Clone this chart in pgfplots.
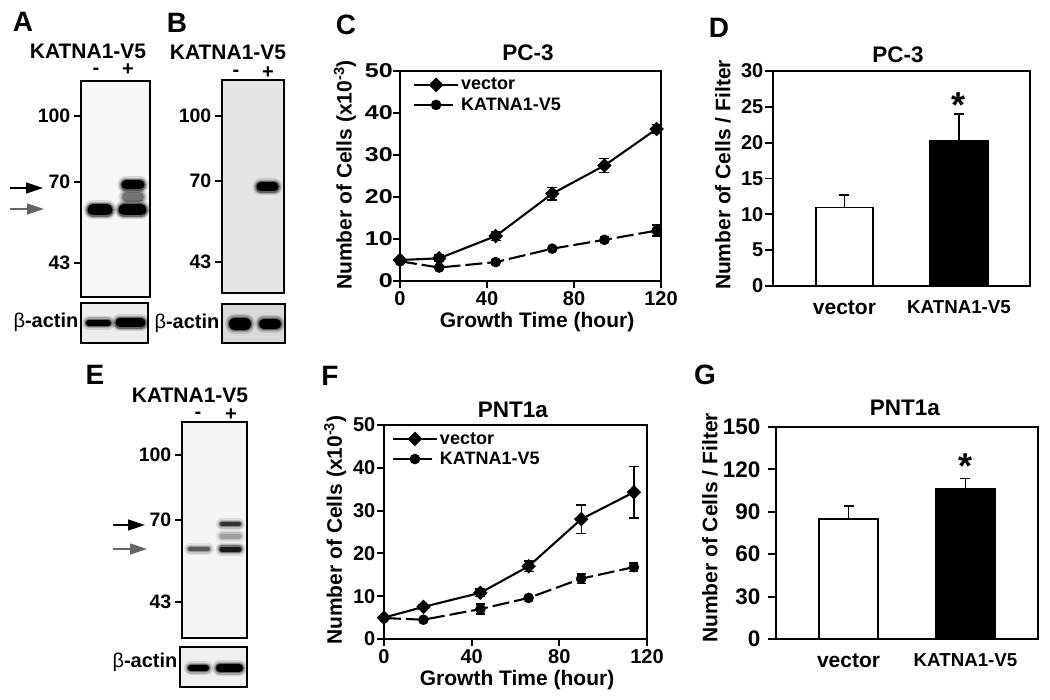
\documentclass[border=0pt]{standalone}
\usepackage{fontspec}
\setmainfont{Liberation Sans}
\usepackage{pgfplots}
\pgfplotsset{compat=1.18}
\usetikzlibrary{arrows.meta}
\newcommand{\fs}[1]{\fontsize{#1}{#1}\selectfont}
\newcommand{\T}[4][19]{\node[font=\bfseries\fs{#1},inner sep=0pt,anchor=center] at (#2pt,-#3pt) {#4};}
\newcommand{\band}[5]{%
 \addplot[#5,line cap=round,opacity=0.12,line width=#4pt+8pt] coordinates {(#1,#3)(#2,#3)};
 \addplot[#5,line cap=round,opacity=0.2,line width=#4pt+5pt] coordinates {(#1,#3)(#2,#3)};
 \addplot[#5,line cap=round,opacity=0.4,line width=#4pt+2.5pt] coordinates {(#1,#3)(#2,#3)};
 \addplot[#5,line cap=round,line width=#4pt] coordinates {(#1,#3)(#2,#3)};
}
\newcommand{\arrowk}[4]{\draw[draw=#4,fill=#4,line width=1.4pt,-{Triangle[length=17pt,width=11pt,fill=#4]}] (#1pt,-#3pt) -- (#2pt,-#3pt);}
\pgfplotsset{
 ax/.style={scale only axis,axis line style={line width=1.9pt,black},
  tick style={line width=1.9pt,black},tick align=outside,major tick length=7pt,
  xtick pos=bottom,ytick pos=left,every axis title shift=0pt,
  tick label style={font=\bfseries\fs{20},/pgf/number format/assume math mode=true},
  label style={font=\bfseries\fs{21},anchor=center,inner sep=0pt},
  title style={font=\bfseries\fs{22.5},anchor=center,inner sep=0pt},
  yticklabel style={inner sep=1.5pt},
  xticklabel style={inner sep=1.5pt,yshift=-2pt}},
 ln/.style={ax,xmin=0,xmax=120,xtick={0,40,80,120},ymin=0,ymax=50,ytick={0,10,...,50},
  legend cell align=left,
  legend image code/.code={\draw[mark repeat=2,mark phase=2,##1] plot coordinates {(0pt,0pt)(22pt,0pt)(44pt,0pt)};},
  legend style={draw=none,fill=none,font=\bfseries\fs{18},inner sep=0pt,outer sep=0pt,row sep=2.5pt,
   /tikz/every even column/.append style={column sep=5pt}}},
 sV/.style={black,line width=2.1pt,mark=square*,mark size=4.1pt,mark options={rotate=45,solid},
  error bars/.cd,y dir=both,y explicit,error bar style={line width=1.4pt,solid},
  error mark options={rotate=90,mark size=5pt,line width=1.4pt,solid}},
 sK/.style={black,line width=2.1pt,dash pattern=on 17pt off 5pt,mark=*,mark size=4.2pt,mark options={solid},
  error bars/.cd,y dir=both,y explicit,error bar style={line width=1.4pt,solid},
  error mark options={rotate=90,mark size=4.5pt,line width=1.4pt,solid}},
 br/.style={ax,ybar,bar shift=0pt,xtick={0,1},xticklabels={{\fs{21}vector},KATNA1-V5},
  major x tick style={draw=none},major tick length=8pt,
  xticklabel style={font=\bfseries\fs{18.7},yshift=-3pt},
  xmin=-0.624,xmax=1.62},
 sB/.style={draw=black,line width=1.9pt,
  error bars/.cd,y dir=plus,y explicit,error bar style={line width=1.5pt,black},
  error mark options={rotate=90,mark size=5pt,line width=1.5pt,black}},
 bl/.style={scale only axis,y dir=reverse,clip=true,axis line style={line width=1.5pt,black},
  xtick=\empty,ytick pos=left,tick align=outside,major tick length=7pt,
  tick style={line width=1.3pt,black},
  tick label style={font=\bfseries\fs{19.5},inner sep=3.5pt}},
 ac/.style={scale only axis,y dir=reverse,clip=true,axis line style={line width=1.5pt,black},
  xtick=\empty,ytick=\empty},
}
\begin{document}
\begin{tikzpicture}
\path (0,0) rectangle (1050pt,-700pt);

%%% Panel A blot
\begin{axis}[bl,at={(81pt,-297pt)},anchor=south west,width=69pt,height=216pt,
 xmin=81,xmax=150,ymin=81,ymax=297,ytick={116,182,263},yticklabels={100,70,43},
 axis background/.style={fill=black!3}]
\band{127}{139}{197}{10}{black!55}
\band{93}{107}{210}{11}{black}
\band{124}{141}{210}{11}{black}
\band{126}{140}{185}{9}{black}
\end{axis}
\begin{axis}[ac,at={(81pt,-343pt)},anchor=south west,width=67pt,height=40pt,
 xmin=81,xmax=148,ymin=303,ymax=343,axis background/.style={fill=black!7}]
\band{89}{108}{323}{6}{black}
\band{120}{141}{323}{9}{black}
\end{axis}

%%% Panel B blot
\begin{axis}[bl,at={(222pt,-293pt)},anchor=south west,width=62pt,height=213pt,
 xmin=222,xmax=284,ymin=80,ymax=293,ytick={116,181,262},yticklabels={100,70,43},
 axis background/.style={fill=black!10}]
\band{261}{274}{187}{9}{black}
\end{axis}
\begin{axis}[ac,at={(222pt,-343pt)},anchor=south west,width=63pt,height=39pt,
 xmin=222,xmax=285,ymin=304,ymax=343,axis background/.style={fill=black!15}]
\band{235}{245}{324}{12}{black}
\band{264}{276}{324}{10}{black}
\end{axis}

%%% Panel E blot
\begin{axis}[bl,at={(182pt,-638pt)},anchor=south west,width=65pt,height=216pt,
 xmin=182,xmax=247,ymin=422,ymax=638,ytick={455,520,602},yticklabels={100,70,43},
 axis background/.style={fill=black!4}]
\band{190}{208}{549}{4}{black!65}
\band{222}{239}{524}{4}{black!80}
\band{222}{239}{536}{5}{black!38}
\band{222}{239}{549}{5}{black!90}
\end{axis}
\begin{axis}[ac,at={(180pt,-687pt)},anchor=south west,width=67pt,height=40pt,
 xmin=180,xmax=247,ymin=647,ymax=687,axis background/.style={fill=black!6}]
\band{191}{206}{668}{6}{black}
\band{220}{239}{668}{8}{black}
\end{axis}

%%% Panel C
\begin{axis}[ln,at={(400pt,-281pt)},anchor=south west,width=261pt,height=210pt,
 yticklabel style={xscale=1.25,inner sep=0pt},
 title={PC-3},title style={at={(axis description cs:0.49,1.086)}},
 xlabel={Growth Time (hour)},xlabel style={at={(axis description cs:0.525,-0.195)}},
 ylabel={Number of Cells (x10\textsuperscript{-3})},ylabel style={at={(axis description cs:-0.211,0.505)}},
 legend style={at={(axis description cs:0.05,0.975)},anchor=north west}]
\addplot+[sV] coordinates {(0,5)+-(0,0.3) (18,5.4)+-(0,0.8) (44,10.7)+-(0,1) (70,20.8)+-(0,1.5) (94,27.5)+-(0,1.7) (118,36.2)+-(0,1)};
\addlegendentry{vector}
\addplot+[sK] coordinates {(0,4.7)+-(0,0.5) (18,3.2)+-(0,0.5) (44,4.5)+-(0,0.5) (70,7.7)+-(0,0.5) (94,9.8)+-(0,0.7) (118,12)+-(0,1.3)};
\addlegendentry{KATNA1-V5}
\end{axis}

%%% Panel D
\begin{axis}[br,at={(773pt,-286pt)},anchor=south west,width=257pt,height=215pt,
 bar width=57.5pt,ymin=0,ymax=30,ytick={0,5,...,30},
 title={PC-3},title style={at={(axis description cs:0.486,1.074)}},
 ylabel={Number of Cells / Filter},ylabel style={at={(axis description cs:-0.195,0.516)}}]
\addplot+[fill=white,sB] coordinates {(0,10.95)+-(0,1.75)};
\addplot+[fill=black,sB] coordinates {(1,20.3)+-(0,3.7)};
\node[font=\bfseries\fs{36},inner sep=0pt] at (axis cs:1,25.3) {*};
\end{axis}

%%% Panel F
\begin{axis}[ln,at={(384pt,-639pt)},anchor=south west,width=263pt,height=214pt,
 title={PNT1a},title style={at={(axis description cs:0.49,1.07)}},
 xlabel={Growth Time (hour)},xlabel style={at={(axis description cs:0.506,-0.19)}},
 ylabel={Number of Cells (x10\textsuperscript{-3})},ylabel style={at={(axis description cs:-0.186,0.509)}},
 legend style={at={(axis description cs:0.03,0.975)},anchor=north west}]
\addplot+[sV] coordinates {(0,5)+-(0,0.3) (18,7.5)+-(0,0.6) (44,10.8)+-(0,0.9) (66,17)+-(0,1.2) (90,28)+-(0,3.3) (114,34.3)+-(0,6)};
\addlegendentry{vector}
\addplot+[sK] coordinates {(0,4.9)+-(0,0.3) (18,4.5)+-(0,0.3) (44,7)+-(0,1.2) (66,9.6)+-(0,0.3) (90,14.1)+-(0,1.1) (114,16.8)+-(0,1)};
\addlegendentry{KATNA1-V5}
\end{axis}

%%% Panel G
\begin{axis}[br,at={(776pt,-639pt)},anchor=south west,width=262pt,height=212pt,
 bar width=59pt,ymin=0,ymax=150,ytick={0,30,...,150},xmin=-0.62,xmax=1.62,
 title={PNT1a},title style={at={(axis description cs:0.492,1.09)}},
 ylabel={Number of Cells / Filter},ylabel style={at={(axis description cs:-0.252,0.524)}},
 yticklabel style={font=\bfseries\fs{22.5},xshift=-6pt}]
\addplot+[fill=white,sB] coordinates {(0,85.2)+-(0,9)};
\addplot+[fill=black,sB] coordinates {(1,106.2)+-(0,7.3)};
\node[font=\bfseries\fs{36},inner sep=0pt] at (axis cs:1,122) {*};
\end{axis}

%%% Blot labels
\T[28]{23}{22}{A}
\T[28]{177}{23}{B}
\T[28]{346}{25}{C}
\T[28]{719}{28}{D}
\T[28]{95}{375}{E}
\T[28]{330}{376}{F}
\T[28]{705}{375}{G}

\T[21]{88}{51}{KATNA1-V5}
\T[20]{96}{71}{-}
\T[20]{128}{70}{+}
\T[21]{228}{52}{KATNA1-V5}
\T[20]{236}{73}{-}
\T[20]{268}{73}{+}
\T[21]{190}{395}{KATNA1-V5}
\T[20]{198}{415}{-}
\T[20]{231}{415}{+}

\T[20]{46}{322}{{\mdseries β}-actin}
\T[20]{187}{323}{{\mdseries β}-actin}
\T[20]{145}{662}{{\mdseries β}-actin}

\arrowk{10}{43}{188}{black}
\arrowk{10}{44}{209}{black!60}
\arrowk{113}{145}{525}{black}
\arrowk{113}{147}{549}{black!60}
\end{tikzpicture}
\end{document}
